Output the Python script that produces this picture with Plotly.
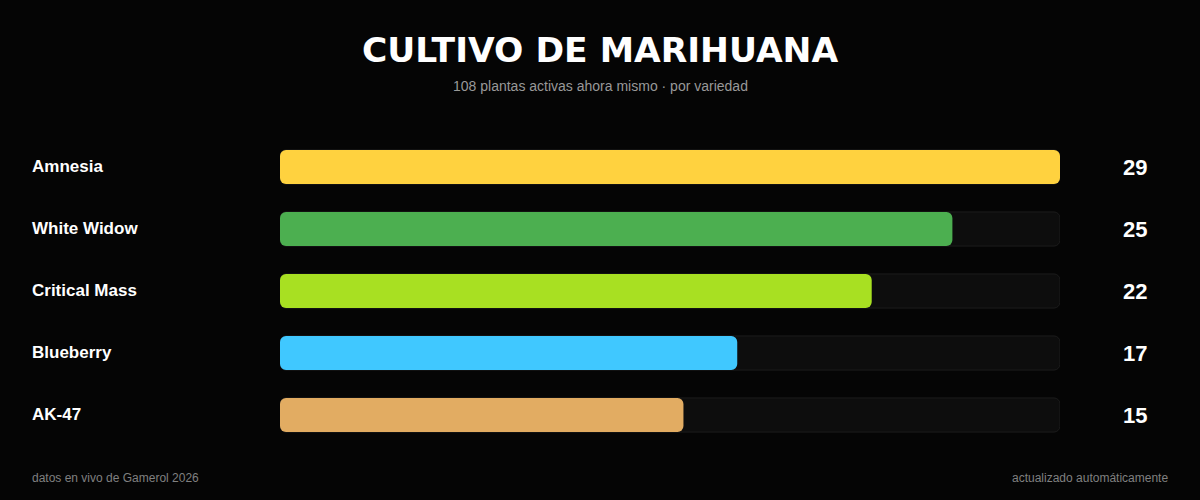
import plotly.graph_objects as go

# DATA
varieties = ["Amnesia", "White Widow", "Critical Mass", "Blueberry", "AK-47"]
plants = [29, 25, 22, 17, 15]
bar_colors = ["#FFD23F", "#4CAF50", "#A8E022", "#40C8FF", "#E2AC62"]

title_text = "CULTIVO DE MARIHUANA"
subtitle_text = "108 plantas activas ahora mismo · por variedad"
footer_left = "datos en vivo de Gamerol 2026"
footer_right = "actualizado automáticamente"

max_val = max(plants)
track = [max_val] * len(varieties)
zeros = [0] * len(varieties)

fig = go.Figure()

# background track (explicit base -> plotly rounds both ends)
fig.add_trace(go.Bar(
    y=varieties,
    x=track,
    base=zeros,
    orientation="h",
    width=0.55,
    marker=dict(color="#0d0d0d", line=dict(color="#1c1c1c", width=1), cornerradius=6),
    hoverinfo="skip",
    showlegend=False
))

# actual values
fig.add_trace(go.Bar(
    y=varieties,
    x=plants,
    base=zeros,
    orientation="h",
    width=0.55,
    marker=dict(color=bar_colors, line=dict(width=0), cornerradius=6),
    hoverinfo="skip",
    showlegend=False
))

# convert pixel positions to paper coords (plot area is x 280..1060, y 136..446)
plot_w = 1200 - 280 - 140
plot_h = 500 - 136 - 54
def px(col):
    return (col - 280) / plot_w
def py(row):
    return (500 - 54 - row) / plot_h

annotations = []
for name, val in zip(varieties, plants):
    # label on the left
    annotations.append(dict(
        x=px(30), xref="paper", y=name, yref="y", yshift=1,
        text=f"<b>{name}</b>", showarrow=False, xanchor="left",
        font=dict(family="Liberation Sans, Arial", size=17, color="#ffffff")
    ))
    # value on the right
    annotations.append(dict(
        x=px(1149), xref="paper", y=name, yref="y",
        text=f"<b>{val}</b>", showarrow=False, xanchor="right",
        font=dict(family="Liberation Sans, Arial", size=22, color="#ffffff")
    ))

annotations += [
    dict(x=px(600), xref="paper", y=py(50), yref="paper", yanchor="middle", text=f"<b>{title_text}</b>",
         showarrow=False, font=dict(family="DejaVu Sans", size=34.5, color="#ffffff")),
    dict(x=px(600), xref="paper", y=py(86), yref="paper", yanchor="middle", text=subtitle_text,
         showarrow=False, font=dict(family="Liberation Sans, Arial", size=14, color="#999999")),
    dict(x=px(30), xref="paper", y=py(478), yref="paper",
         xanchor="left", yanchor="middle", text=footer_left, showarrow=False,
         font=dict(family="Liberation Sans, Arial", size=12, color="#808080")),
    dict(x=px(1170), xref="paper", y=py(478), yref="paper",
         xanchor="right", yanchor="middle", text=footer_right, showarrow=False,
         font=dict(family="Liberation Sans, Arial", size=12, color="#808080")),
]

fig.update_layout(
    width=1200, height=500,
    paper_bgcolor="#050505", plot_bgcolor="#050505",
    barmode="overlay",
    margin=dict(l=280, r=140, t=136, b=54),
    xaxis=dict(range=[0, max_val], visible=False, fixedrange=True),
    yaxis=dict(categoryorder="array", categoryarray=varieties, autorange="reversed",
               visible=False, fixedrange=True),
    showlegend=False,
    annotations=annotations,
)

fig.write_html(
    "out.html",
    config={"displayModeBar": False},
    post_script="document.body.style.margin='0';document.body.style.background='#050505';"
)
